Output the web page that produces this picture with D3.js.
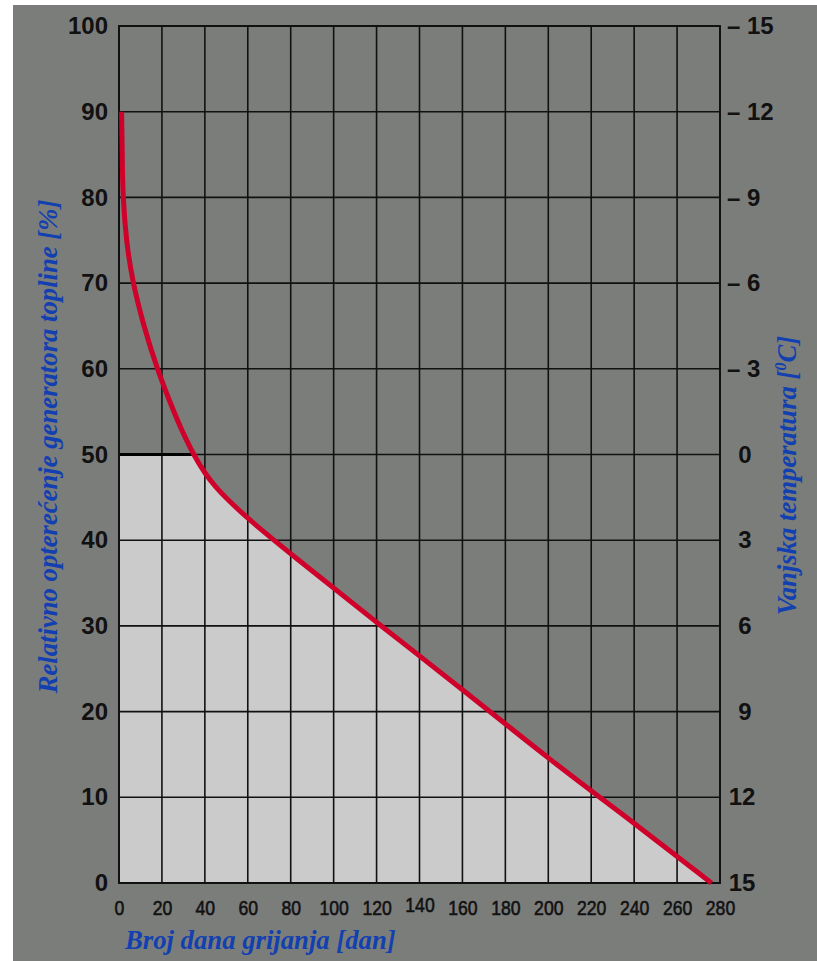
<!DOCTYPE html>
<html>
<head>
<meta charset="utf-8">
<script src="https://cdn.jsdelivr.net/npm/d3@7"></script>
<style>
  body { margin: 0; background: #fff; }
  svg { display: block; }
</style>
</head>
<body>
<div id="chart"></div>
<script>
// days of heating vs. relative load of the heat generator [%]
var days = [1.2, 1.4, 1.6, 1.9, 3.3, 6.4, 11.5, 17.7, 25.5, 30, 34.7, 40, 45, 50, 60, 80, 120, 160, 200, 240, 276];
var load = [90, 87, 83, 80, 75, 70, 65, 60, 55, 52.4, 50, 47.8, 46.2, 44.9, 42.5, 38.4, 30.4, 22.6, 14.5, 7, 0];

var xTicks = [0, 20, 40, 60, 80, 100, 120, 140, 160, 180, 200, 220, 240, 260, 280];
var yTicks = [0, 10, 20, 30, 40, 50, 60, 70, 80, 90, 100];
var tempTicks = [-15, -12, -9, -6, -3, 0, 3, 6, 9, 12, 15];
var capLoad = 50; // light area is limited to 50 %

var data = days.map(function(d, i) { return {day: d, load: load[i]}; });

var W = 817, H = 961;
var margin = {top: 26, right: 97, bottom: 78, left: 119};
var width = W - margin.left - margin.right,
    height = H - margin.top - margin.bottom;

var svg = d3.select("#chart").append("svg")
  .attr("width", W).attr("height", H);

// gray panel
svg.append("rect")
  .attr("x", 13).attr("y", 5)
  .attr("width", W - 13).attr("height", H - 5)
  .attr("fill", "#7b7d7b");

var g = svg.append("g")
  .attr("transform", "translate(" + margin.left + "," + margin.top + ")");

var x = d3.scaleLinear().domain([0, 280]).range([0, width]);
var y = d3.scaleLinear().domain([0, 100]).range([height, 0]);
var t = d3.scaleLinear().domain([15, -15]).range([height, 0]);

var curve = d3.curveBasis;

// clip the light area to the part below 50 %
svg.append("defs").append("clipPath").attr("id", "below-cap")
  .append("rect")
  .attr("x", 0).attr("y", y(capLoad))
  .attr("width", width).attr("height", height - y(capLoad));

var area = d3.area()
  .curve(curve)
  .x(function(d) { return x(d.day); })
  .y0(height)
  .y1(function(d) { return y(d.load); });

g.append("path")
  .datum([{day: 0, load: load[0]}].concat(data))
  .attr("d", area)
  .attr("clip-path", "url(#below-cap)")
  .attr("fill", "#cbcbcb");

// grid
g.append("g")
  .selectAll("line")
  .data(xTicks)
  .enter().append("line")
  .attr("x1", function(d) { return x(d); })
  .attr("x2", function(d) { return x(d); })
  .attr("y1", 0).attr("y2", height)
  .attr("stroke", "#111").attr("stroke-width", 1.6);

g.append("g")
  .selectAll("line")
  .data(yTicks)
  .enter().append("line")
  .attr("x1", 0).attr("x2", width)
  .attr("y1", function(d) { return y(d); })
  .attr("y2", function(d) { return y(d); })
  .attr("stroke", "#111").attr("stroke-width", 1.6);

// thicker line on the 50 % cap
var capDay = days[load.indexOf(capLoad)];
g.append("line")
  .attr("x1", x(0)).attr("x2", x(capDay))
  .attr("y1", y(capLoad)).attr("y2", y(capLoad))
  .attr("stroke", "#000").attr("stroke-width", 2.8);

// frame
g.append("rect")
  .attr("width", width).attr("height", height)
  .attr("fill", "none").attr("stroke", "#111").attr("stroke-width", 2);

// curve
var line = d3.line()
  .curve(curve)
  .x(function(d) { return x(d.day); })
  .y(function(d) { return y(d.load); });

g.append("path")
  .datum(data)
  .attr("d", line)
  .attr("fill", "none")
  .attr("stroke", "#cf0029")
  .attr("stroke-width", 5);

// left axis
var yAxis = g.append("g")
  .call(d3.axisLeft(y).tickValues(yTicks).tickSize(0).tickPadding(11));
yAxis.select(".domain").remove();
yAxis.selectAll("text")
  .attr("font-family", "Liberation Sans, Arial, sans-serif")
  .attr("font-weight", "bold")
  .attr("font-size", 24)
  .attr("fill", "#111");

// right axis (outside temperature)
var tAxis = g.append("g")
  .attr("transform", "translate(" + width + ",0)")
  .call(d3.axisRight(t).tickValues(tempTicks).tickSize(0)
    .tickFormat(function(d) { return d < 0 ? "\u2013 " + Math.abs(d) : d; }));
tAxis.select(".domain").remove();
tAxis.selectAll("text")
  .attr("font-family", "Liberation Sans, Arial, sans-serif")
  .attr("font-weight", "bold")
  .attr("font-size", 24)
  .attr("fill", "#111")
  .attr("text-anchor", function(d) { return d < 0 ? "start" : "middle"; })
  .attr("x", function(d) { return d < 0 ? 7 : (d >= 10 ? 22 : 25); });

// bottom axis, narrow labels
var xAxis = g.append("g")
  .attr("transform", "translate(0," + height + ")")
  .call(d3.axisBottom(x).tickValues(xTicks).tickSize(0).tickPadding(0));
xAxis.select(".domain").remove();
xAxis.selectAll("text")
  .attr("font-family", "Liberation Sans, Arial, sans-serif")
  .attr("font-size", 21)
  .attr("fill", "#111")
  .attr("stroke", "#111").attr("stroke-width", 0.6)
  .attr("dy", null)
  .attr("y", function(d) { return d === 140 ? 29 : 32; })
  .attr("textLength", function(d) { return String(d).length * 9.8; })
  .attr("lengthAdjust", "spacingAndGlyphs");

// axis titles
var titleFont = "Liberation Serif, Times New Roman, serif";
var blue = "#1240b0";

svg.append("text")
  .attr("transform", "translate(57," + (margin.top + y(50) - 8) + ") rotate(-90)")
  .attr("text-anchor", "middle")
  .attr("font-family", titleFont)
  .attr("font-style", "italic").attr("font-weight", "bold")
  .attr("font-size", 26.7)
  .attr("fill", blue)
  .text("Relativno optere\u0107enje generatora topline [%]");

var rt = svg.append("text")
  .attr("transform", "translate(796," + (margin.top + y(50) + 21) + ") rotate(-90)")
  .attr("text-anchor", "middle")
  .attr("font-family", titleFont)
  .attr("font-style", "italic").attr("font-weight", "bold")
  .attr("font-size", 26.7)
  .attr("fill", blue);
rt.append("tspan").text("Vanjska temperatura [");
rt.append("tspan").attr("font-size", 16).attr("dy", -10).text("0");
rt.append("tspan").attr("dy", 10).text("C]");

svg.append("text")
  .attr("x", 125).attr("y", 949)
  .attr("font-family", titleFont)
  .attr("font-style", "italic").attr("font-weight", "bold")
  .attr("font-size", 26.7)
  .attr("fill", blue)
  .text("Broj dana grijanja [dan]");
</script>
</body>
</html>
